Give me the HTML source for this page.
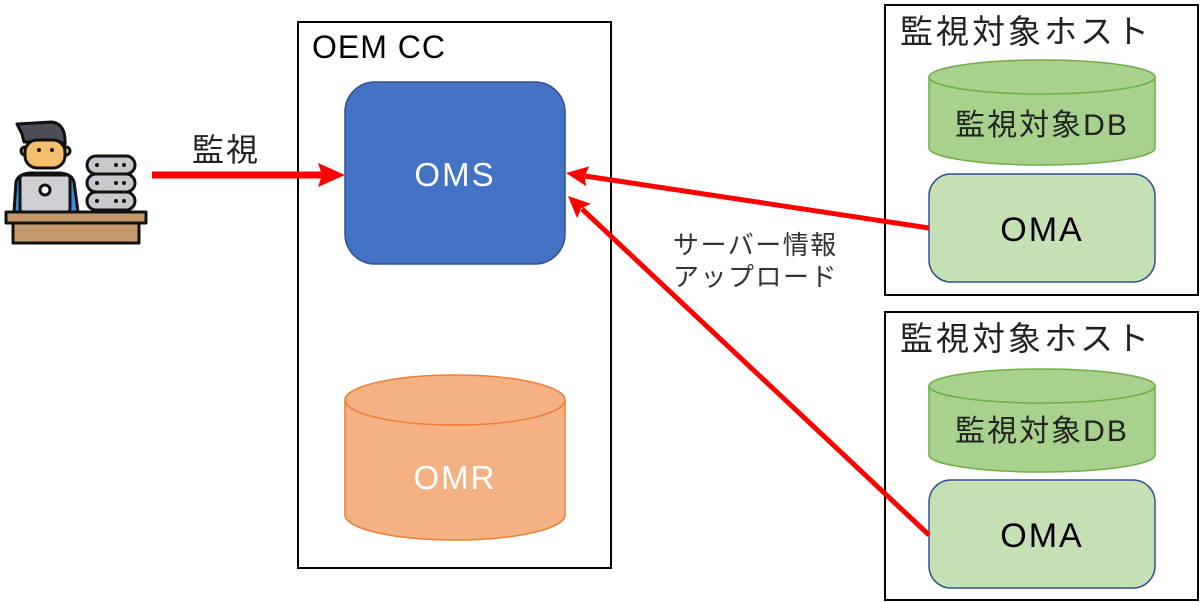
<!DOCTYPE html>
<html><head><meta charset="utf-8"><style>
html,body{margin:0;padding:0;background:#fff;}
svg{display:block;}
text{font-family:"Liberation Sans","Noto Sans CJK JP",sans-serif;}
</style></head><body>
<svg width="1200" height="602" viewBox="0 0 1200 602" xmlns="http://www.w3.org/2000/svg">
<!-- OEM CC box -->
<rect x="298" y="22" width="313" height="546" fill="#fff" stroke="#000" stroke-width="2"/>
<text x="312" y="58" font-size="32" letter-spacing="1" fill="#000">OEM CC</text>
<rect x="345" y="82" width="220" height="182" rx="30" fill="#4472c4" stroke="#2f528f" stroke-width="1.5"/>
<text x="455" y="186" font-size="33" letter-spacing="2" fill="#fff" text-anchor="middle">OMS</text>
<!-- OMR cylinder -->
<path d="M345,400 L345,515 A110,25 0 0 0 565,515 L565,400 Z" fill="#f4b183" stroke="#ed7d31" stroke-width="1.5"/>
<ellipse cx="455" cy="400" rx="110" ry="25" fill="#f4b183" stroke="#ed7d31" stroke-width="1.5"/>
<text x="455" y="489" font-size="33" letter-spacing="2" fill="#fff" text-anchor="middle">OMR</text>

<!-- Host 1 -->
<rect x="885" y="5" width="313" height="290" fill="#fff" stroke="#000" stroke-width="2"/>
<text x="900" y="43" font-size="33" letter-spacing="3" fill="#222">監視対象ホスト</text>
<path d="M929,77 L929,148 A113,17 0 0 0 1155,148 L1155,77 Z" fill="#a9d18e" stroke="#70ad47" stroke-width="1.5"/>
<ellipse cx="1042" cy="77" rx="113" ry="17" fill="#a9d18e" stroke="#70ad47" stroke-width="1.5"/>
<text x="1042" y="135" font-size="30" letter-spacing="2" fill="#222" text-anchor="middle">監視対象DB</text>
<rect x="929" y="174" width="226" height="108" rx="22" fill="#c5e0b4" stroke="#2f528f" stroke-width="1.5"/>
<text x="1042" y="241" font-size="34" letter-spacing="2" fill="#000" text-anchor="middle">OMA</text>

<!-- Host 2 -->
<rect x="885" y="312" width="313" height="288" fill="#fff" stroke="#000" stroke-width="2"/>
<text x="900" y="350" font-size="33" letter-spacing="3" fill="#222">監視対象ホスト</text>
<path d="M929,386 L929,455 A113,17 0 0 0 1155,455 L1155,386 Z" fill="#a9d18e" stroke="#70ad47" stroke-width="1.5"/>
<ellipse cx="1042" cy="386" rx="113" ry="17" fill="#a9d18e" stroke="#70ad47" stroke-width="1.5"/>
<text x="1042" y="441" font-size="30" letter-spacing="2" fill="#222" text-anchor="middle">監視対象DB</text>
<rect x="929" y="480" width="226" height="108" rx="22" fill="#c5e0b4" stroke="#2f528f" stroke-width="1.5"/>
<text x="1042" y="547" font-size="34" letter-spacing="2" fill="#000" text-anchor="middle">OMA</text>

<!-- arrows -->
<line x1="152" y1="175" x2="322" y2="175" stroke="#ff0000" stroke-width="7"/>
<polygon points="345,175 318,163 322,175 318,187" fill="#ff0000"/>
<line x1="929" y1="228" x2="585" y2="176" stroke="#ff0000" stroke-width="5"/>
<polygon points="566,173 589.3,166.4 584.5,176 586.3,186.2" fill="#ff0000"/>
<line x1="929" y1="535" x2="582" y2="209" stroke="#ff0000" stroke-width="5"/>
<polygon points="568,196 590.9,203.8 581,208.5 577.2,218.4" fill="#ff0000"/>
<text x="192" y="161" font-size="32" letter-spacing="2" fill="#222">監視</text>
<text x="673" y="254" font-size="26" letter-spacing="1.5" fill="#333">サーバー情報</text>
<text x="673" y="286" font-size="26" letter-spacing="1.5" fill="#333">アップロード</text>

<!-- person icon -->
<g stroke="#111" stroke-width="3" stroke-linejoin="round">
<path d="M17,124 L52,122 Q66,124 65,144 L60,142 L24,142 L22,134 L20,130 Z" fill="#4d4d55"/>
<circle cx="25" cy="151" r="4" fill="#f5c06e"/>
<circle cx="66" cy="151" r="4" fill="#f5c06e"/>
<rect x="25" y="140" width="40" height="28" rx="12" fill="#f5c06e"/>
<path d="M14,212 L16,182 Q18,174 30,173 L60,173 Q72,174 74,182 L78,212 Z" fill="#3b8ede"/>
<rect x="20" y="175" width="50" height="37" rx="3" fill="#d0d0d4"/>
<circle cx="45" cy="190" r="5" fill="#fff"/>
<rect x="87" y="156" width="48" height="18" rx="9" fill="#c8c8cc"/>
<rect x="87" y="174" width="48" height="18" rx="9" fill="#c8c8cc"/>
<rect x="87" y="192" width="48" height="18" rx="9" fill="#c8c8cc"/>
<rect x="6" y="212" width="140" height="11" fill="#c49a6c"/>
<rect x="13" y="223" width="126" height="20" fill="#c49a6c"/>
</g>
<g fill="#111">
<circle cx="39" cy="150" r="2"/><circle cx="52" cy="150" r="2"/>
<circle cx="97" cy="165" r="2"/><circle cx="116" cy="165" r="2"/><circle cx="124" cy="165" r="2"/>
<circle cx="97" cy="183" r="2"/><circle cx="116" cy="183" r="2"/><circle cx="124" cy="183" r="2"/>
<circle cx="97" cy="201" r="2"/><circle cx="116" cy="201" r="2"/><circle cx="124" cy="201" r="2"/>
</g>
</svg>
</body></html>
